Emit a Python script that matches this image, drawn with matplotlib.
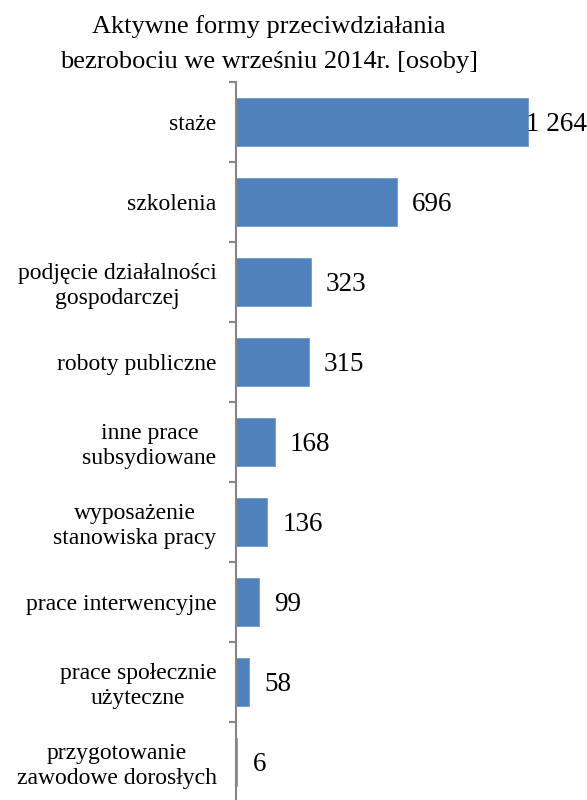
import matplotlib.pyplot as plt
import numpy as np

plt.rcParams['font.family'] = ['Liberation Serif', 'DejaVu Serif']

categories = ['staże', 'szkolenia', 'podjęcie działalności\ngospodarczej',
              'roboty publiczne', 'inne prace\nsubsydiowane',
              'wyposażenie\nstanowiska pracy', 'prace interwencyjne',
              'prace społecznie\nużyteczne', 'przygotowanie\nzawodowe dorosłych']
values = [1264, 696, 323, 315, 168, 136, 99, 58, 6]
labels = ['1 264', '696', '323', '315', '168', '136', '99', '58', '6']

fig = plt.figure(figsize=(5.87, 8.0), dpi=100)
ax = fig.add_axes([236 / 587, -2 / 800, 351 / 587, 720 / 800])

y = np.arange(len(categories))
ax.barh(y, values, height=0.6, color='#4F81BD', edgecolor='#6f9ad0', linewidth=0.6)

for yi, v, lab in zip(y, values, labels):
    off = -1 if v == max(values) else 11
    ax.annotate(lab, (v, yi), xytext=(off, -1.5), textcoords='offset points',
                ha='left', va='center', fontsize=19.5)

ax.set_xlim(0, 1520)
ax.set_ylim(len(categories) - 0.5, -0.5)
ax.set_yticks(y)
ax.set_yticklabels(categories, fontsize=17, multialignment='center')
ax.set_yticks(np.arange(len(categories) + 1) - 0.5, minor=True)
ax.tick_params(axis='y', which='major', length=0, pad=14)
ax.tick_params(axis='y', which='minor', length=5, width=1.5, color='#868686')
ax.set_xticks([])
for s in ['top', 'right', 'bottom']:
    ax.spines[s].set_visible(False)
ax.spines['left'].set_color('#868686')
ax.spines['left'].set_linewidth(1.5)

fig.text(269 / 587, 1 - 33 / 800, 'Aktywne formy przeciwdziałania',
         ha='center', va='baseline', fontsize=19)
fig.text(269 / 587, 1 - 68 / 800, 'bezrobociu we wrześniu 2014r. [osoby]',
         ha='center', va='baseline', fontsize=19)

fig.savefig('out.png', dpi=100)
